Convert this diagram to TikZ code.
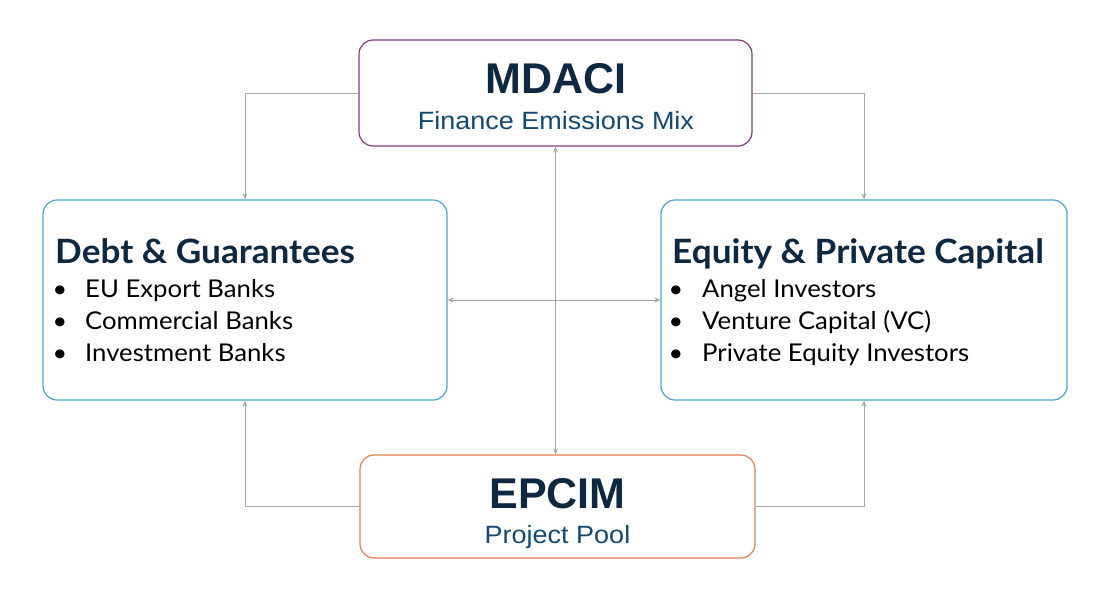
\documentclass[tikz,border=0pt]{standalone}
\usepackage{fontspec}
\setmainfont{Lato}[FakeStretch=1.05]
\newfontfamily\headfont{Liberation Sans}
\newfontfamily\subfont{Liberation Sans}[FakeStretch=1.08]
\usetikzlibrary{arrows.meta, positioning}
\definecolor{cpurple}{HTML}{7F3C7D}
\definecolor{cteal}{HTML}{4AA6C8}
\definecolor{corange}{HTML}{E57D52}
\definecolor{cnavy}{HTML}{0E2841}
\definecolor{cblue}{HTML}{124A72}
\definecolor{cline}{HTML}{A8A8A8}
\tikzset{
  box/.style={draw=#1, fill=white, rounded corners=14pt, line width=1.2pt, inner sep=0pt},
  link/.style={-{Stealth[length=6pt, width=5pt]}, draw=cline, line width=1pt},
  twoway/.style={{Stealth[length=6pt, width=5pt]}-{Stealth[length=6pt, width=5pt]}, draw=cline, line width=1pt},
  head/.style={font=\headfont\bfseries\fontsize{43}{43}\selectfont, text=cnavy, anchor=base, inner sep=0pt},
  sub/.style={font=\subfont\fontsize{25}{25}\selectfont, text=cblue, anchor=base, inner sep=0pt},
  title/.style={font=\bfseries\fontsize{33.5}{33.5}\selectfont, text=cnavy, anchor=base west, inner sep=0pt},
  item/.style={font=\fontsize{24.5}{24.5}\selectfont, anchor=base west, inner sep=0pt},
  dot/.style={font=\fontsize{24}{24}\selectfont, anchor=base, inner sep=0pt},
}

\begin{document}
\begin{tikzpicture}[x=1pt, y=-1pt]
  \useasboundingbox (0,0) rectangle (1110,600);
  % boxes
  \node[box=cpurple, minimum width=393pt, minimum height=106pt] (mdaci) at (555.5,93) {};
  \node[box=cteal, minimum width=404pt, minimum height=200pt] (debt) at (245,300) {};
  \node[box=cteal, minimum width=406pt, minimum height=200pt] (equity) at (864,300) {};
  \node[box=corange, minimum width=395pt, minimum height=103pt] (epcim) at (557.5,506.5) {};
  % hub labels
  \node[head] (mdacihead) at (556,93) {MDACI};
  \node[sub] (mdacisub) at (556,129) {Finance Emissions Mix};
  \node[head] (epcimhead) at (557.5,508) {EPCIM};
  \node[sub] (epcimsub) at (557.5,543) {Project Pool};
  % side boxes
  \node[title] (debttitle) at (55,263) {Debt \& Guarantees};
  \foreach \txt [count=\i] in {EU Export Banks, Commercial Banks, Investment Banks} {
    \node[dot] (debtdot\i) at (60,265+32*\i) {\textbullet};
    \node[item] (debtitem\i) at (85,265+32*\i) {\txt};
  }
  \node[title] (equitytitle) at (672,263) {Equity \& Private Capital};
  \foreach \txt [count=\i] in {Angel Investors, Venture Capital (VC), Private Equity Investors} {
    \node[dot] (equitydot\i) at (676,265+32*\i) {\textbullet};
    \node[item] (equityitem\i) at (702,265+32*\i) {\txt};
  }
  % connectors
  \draw[link] (mdaci.west) -| (debt.north);
  \draw[link] (mdaci.east) -| (equity.north);
  \draw[link] (epcim.west) -| (debt.south);
  \draw[link] (epcim.east) -| (equity.south);
  \draw[twoway] (debt.east) -- (equity.west);
  \draw[twoway] (mdaci.south) -- (mdaci.south |- epcim.north);
\end{tikzpicture}
\end{document}
